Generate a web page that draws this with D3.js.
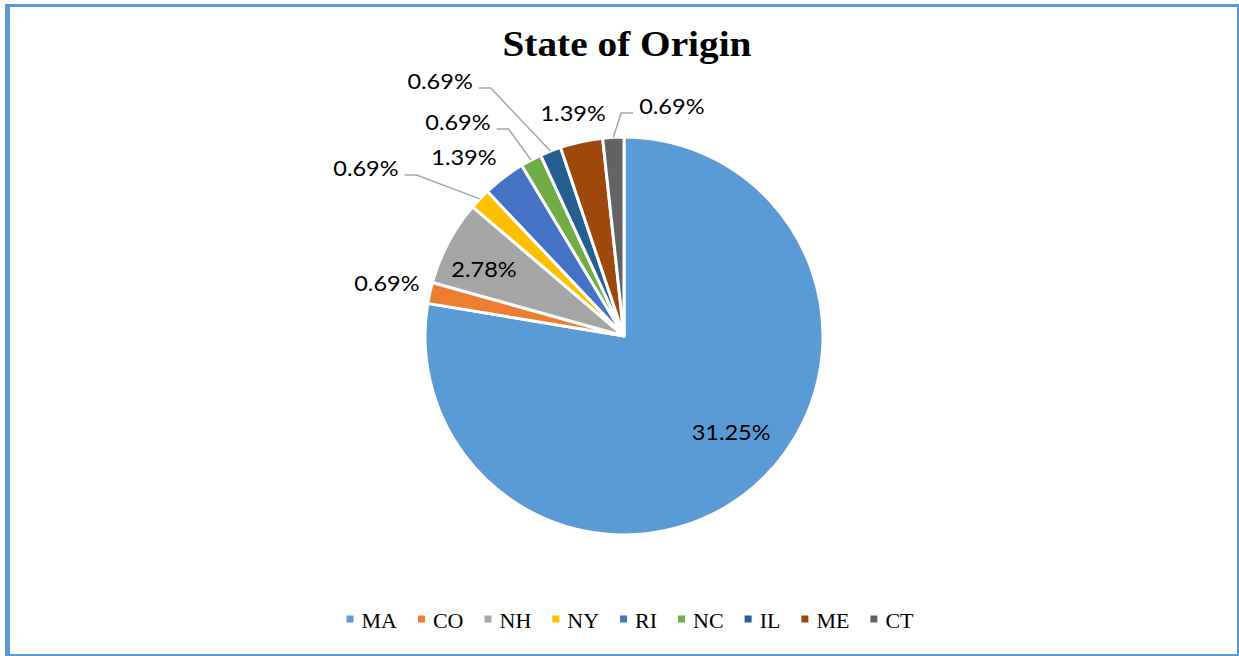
<!DOCTYPE html>
<html>
<head>
<meta charset="utf-8">
<script src="https://cdn.jsdelivr.net/npm/d3@7"></script>
<style>
  html, body { margin: 0; padding: 0; background: #fff; }
  svg { display: block; }
</style>
</head>
<body>
<svg id="chart" width="1239" height="656"></svg>
<script>
// datos del grafico
const states = ["MA", "CO", "NH", "NY", "RI", "NC", "IL", "ME", "CT"];
const percents = [31.25, 0.69, 2.78, 0.69, 1.39, 0.69, 0.69, 1.39, 0.69];
const colors = ["#5B9BD5", "#ED7D31", "#A5A5A5", "#FFC000", "#4472C4", "#70AD47", "#255E91", "#9E480E", "#636363"];

// donde va cada etiqueta: [angulo en grados desde arriba, fraccion del radio], y si lleva linea guia
const labelPolar = [[131.6, 0.72], [282.8, 1.222], [295.9, 0.782], [303.2, 1.55], [318.2, 1.207], [322.3, 1.365], [324.3, 1.584], [347.2, 1.154], [11.7, 1.185]];
const hasLeader = [false, false, false, true, false, true, true, false, true];

const W = 1239, H = 656;
const cx = 624, cy = 336, R = 199;

const svg = d3.select("#chart");

// marco azul
const frameColor = "#5B9BD5";
svg.append("rect").attr("x", 5).attr("y", 4).attr("width", 5).attr("height", H - 4).attr("fill", frameColor);
svg.append("rect").attr("x", 5).attr("y", 4).attr("width", W - 5).attr("height", 3).attr("fill", frameColor);
svg.append("rect").attr("x", W - 2).attr("y", 4).attr("width", 2).attr("height", H - 4).attr("fill", frameColor);
svg.append("rect").attr("x", 5).attr("y", H - 2).attr("width", W - 5).attr("height", 2).attr("fill", frameColor);

// titulo
svg.append("text")
  .attr("x", 627)
  .attr("y", 56)
  .attr("text-anchor", "middle")
  .attr("font-family", "'Liberation Serif', serif")
  .attr("font-weight", "bold")
  .attr("font-size", 36)
  .attr("textLength", 249)
  .attr("lengthAdjust", "spacingAndGlyphs")
  .attr("fill", "#000")
  .text("State of Origin");

const data = states.map((s, i) => ({ state: s, value: percents[i], color: colors[i], i: i }));

const pie = d3.pie().value((d) => d.value).sort(null);
const arc = d3.arc().innerRadius(0).outerRadius(R);
const arcs = pie(data);

const g = svg.append("g").attr("transform", `translate(${cx},${cy})`);

g.selectAll("path.slice")
  .data(arcs)
  .enter()
  .append("path")
  .attr("class", "slice")
  .attr("d", arc)
  .attr("fill", (d) => d.data.color)
  .attr("stroke", "#fff")
  .attr("stroke-width", 3)
  .attr("stroke-linejoin", "miter");

const labelFont = "Lato, 'Open Sans', sans-serif";

// etiquetas
const labels = g.selectAll("text.lbl")
  .data(arcs)
  .enter()
  .append("text")
  .attr("class", "lbl")
  .attr("font-family", labelFont)
  .attr("font-size", 21)
  .attr("fill", "#000")
  .attr("text-anchor", "middle")
  .attr("dominant-baseline", "central")
  .attr("x", (d) => {
    const p = labelPolar[d.data.i];
    return Math.sin((p[0] * Math.PI) / 180) * R * p[1];
  })
  .attr("y", (d) => {
    const p = labelPolar[d.data.i];
    return -Math.cos((p[0] * Math.PI) / 180) * R * p[1];
  })
  .text((d) => d.data.value.toFixed(2) + "%");

// un poco mas anchas, como en el original
labels.each(function () {
  const w = this.getComputedTextLength();
  d3.select(this).attr("textLength", w * 1.12).attr("lengthAdjust", "spacingAndGlyphs");
});

// lineas guia
labels.each(function (d) {
  if (!hasLeader[d.data.i]) return;
  const el = d3.select(this);
  const lx = +el.attr("x"), ly = +el.attr("y");
  const w = +el.attr("textLength");
  const mid = (d.startAngle + d.endAngle) / 2;
  const ax = Math.sin(mid) * R, ay = -Math.cos(mid) * R;
  const side = ax > lx ? 1 : -1; // la etiqueta esta a la izquierda del trozo?
  const x0 = lx + side * (w / 2 + 6);
  const x1 = x0 + side * 12;
  const y0 = ly + 8;
  g.append("polyline")
    .attr("points", `${x0},${y0} ${x1},${y0} ${ax},${ay}`)
    .attr("fill", "none")
    .attr("stroke", "#A6A6A6")
    .attr("stroke-width", 1.5);
});

// leyenda
const legend = svg.append("g").attr("class", "legend");
const legY = 619;
const items = legend.selectAll("g.item")
  .data(data)
  .enter()
  .append("g")
  .attr("class", "item");

items.append("rect")
  .attr("width", 7)
  .attr("height", 7)
  .attr("y", legY - 3.5)
  .attr("fill", (d) => d.color);

items.append("text")
  .attr("font-family", "'Liberation Serif', serif")
  .attr("font-size", 22)
  .attr("fill", "#000")
  .attr("dominant-baseline", "central")
  .attr("y", legY + 1)
  .text((d) => d.state);

// colocar los items uno tras otro y centrar
const widths = [];
items.each(function () {
  widths.push(d3.select(this).select("text").node().getComputedTextLength());
});
const total = widths.reduce((a, b) => a + b + 15 + 21, 0) - 21;
let start = 630 - total / 2;
items.each(function (d, i) {
  const it = d3.select(this);
  it.select("rect").attr("x", start);
  it.select("text").attr("x", start + 15);
  start += 15 + widths[i] + 21;
});
</script>
</body>
</html>
